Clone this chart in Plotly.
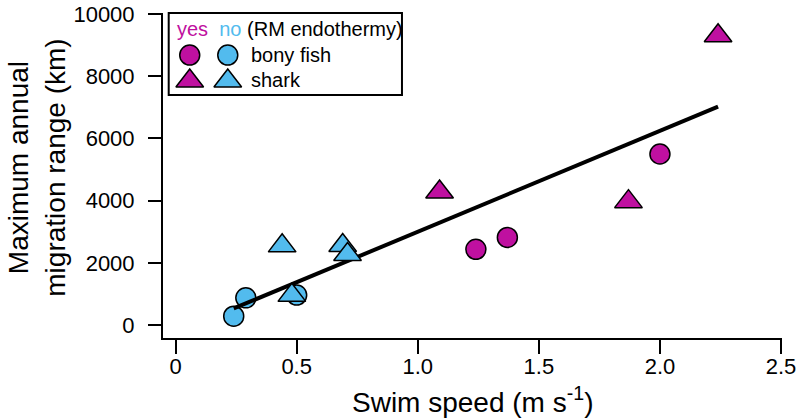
"""Swim speed vs maximum annual migration range, by RM endothermy."""
import plotly.graph_objects as go

# ---- data ----
yes_fish_speed = [1.24, 1.37, 2.00]
yes_fish_range = [2440, 2820, 5500]
yes_shark_speed = [1.09, 1.87, 2.24]
yes_shark_range = [4280, 3970, 9300]
no_fish_speed = [0.24, 0.29, 0.50]
no_fish_range = [290, 880, 970]
no_shark_speed = [0.44, 0.48, 0.69, 0.71]
no_shark_range = [2550, 960, 2560, 2270]
fit_speed = [0.24, 2.24]
fit_range = [540, 7020]

x_ticks = [0, 0.5, 1.0, 1.5, 2.0, 2.5]
x_labels = ['0', '0.5', '1.0', '1.5', '2.0', '2.5']
y_ticks = [0, 2000, 4000, 6000, 8000, 10000]
y_labels = ['0', '2000', '4000', '6000', '8000', '10000']

MAGENTA = '#bf10a0'
BLUE = '#52bbee'
FONT = 'Liberation Sans, Arial, sans-serif'

W, H = 796, 419
# plot area in page pixels
L, R, T, B = 163.3, 781.6, 13, 337.7


def px(x):
    return (x - L) / (R - L)


def py(y):
    return (B - y) / (B - T)


fig = go.Figure()

marker_line = dict(color='black', width=1.5)
TRI = 24

fig.add_trace(go.Scatter(x=no_fish_speed, y=no_fish_range, mode='markers',
                         marker=dict(symbol='circle', size=20, color=BLUE, line=marker_line)))
fig.add_trace(go.Scatter(x=yes_fish_speed, y=yes_fish_range, mode='markers',
                         marker=dict(symbol='circle', size=20, color=MAGENTA, line=marker_line)))
fig.add_trace(go.Scatter(x=fit_speed, y=fit_range, mode='lines',
                         line=dict(color='black', width=4)))
fig.add_trace(go.Scatter(x=no_shark_speed, y=no_shark_range, mode='markers',
                         marker=dict(symbol='triangle-up', size=TRI, color=BLUE, line=marker_line)))
fig.add_trace(go.Scatter(x=yes_shark_speed, y=yes_shark_range, mode='markers',
                         marker=dict(symbol='triangle-up', size=TRI, color=MAGENTA, line=marker_line)))

# legend keys, drawn on a hidden pixel-scaled axis pair
for sym, ky in (('circle', 55), ('triangle-up', 81)):
    sz = 20 if sym == 'circle' else TRI
    fig.add_trace(go.Scatter(x=[190, 228], y=[ky, ky], mode='markers', xaxis='x2', yaxis='y2',
                             marker=dict(symbol=sym, size=sz, color=[MAGENTA, BLUE], line=marker_line),
                             hoverinfo='skip'))

fig.add_shape(type='rect', xref='paper', yref='paper',
              x0=px(169), x1=px(402), y0=py(95), y1=py(13),
              line=dict(color='black', width=2), fillcolor='white', layer='below')

legend_font = dict(size=20, color='black', family=FONT)
fig.add_annotation(xref='paper', yref='paper', x=px(175), y=py(29), xanchor='left', yanchor='middle',
                   showarrow=False, font=legend_font,
                   text=f'<span style="color:{MAGENTA}">yes</span>&nbsp; '
                        f'<span style="color:{BLUE}">no</span> (RM endothermy)')
fig.add_annotation(xref='paper', yref='paper', x=px(249), y=py(55), xanchor='left', yanchor='middle',
                   showarrow=False, font=legend_font, text='bony fish')
fig.add_annotation(xref='paper', yref='paper', x=px(249), y=py(80), xanchor='left', yanchor='middle',
                   showarrow=False, font=legend_font, text='shark')

# axis titles as annotations for exact placement
title_font = dict(size=28, color='black', family=FONT)
fig.add_annotation(xref='paper', yref='paper', x=px(472), y=py(400), xanchor='center', yanchor='middle',
                   showarrow=False, font=title_font, text='Swim speed (m s<sup>-1</sup>)')
fig.add_annotation(xref='paper', yref='paper', x=px(37), y=py(168), xanchor='center', yanchor='middle',
                   showarrow=False, font=title_font, textangle=-90,
                   text='Maximum annual<br>migration range (km)')

axis_common = dict(showline=True, linecolor='black', linewidth=2, showgrid=False, zeroline=False,
                   ticks='outside', tickcolor='black', tickwidth=1.5, automargin=False,
                   ticklabeloverflow='allow',
                   tickfont=dict(size=22, color='black', family=FONT))

fig.update_layout(
    width=W, height=H,
    margin=dict(l=L, r=W - R, t=T, b=H - B),
    plot_bgcolor='white', paper_bgcolor='white',
    showlegend=False,
    font=dict(family=FONT, color='black'),
    xaxis=dict(range=[-0.052, 2.504], tickvals=x_ticks, ticktext=x_labels, ticklen=14,
               ticklabelstandoff=-6, **axis_common),
    yaxis=dict(range=[-410, 10030], tickvals=y_ticks, ticktext=y_labels, ticklen=13,
               ticklabelstandoff=9, **axis_common),
    xaxis2=dict(overlaying='x', range=[L, R], visible=False, domain=[0, 1]),
    yaxis2=dict(overlaying='y', range=[B, T], visible=False, domain=[0, 1]),
)

# drop the default 8px body margin so the figure sits at the page origin
fig.write_html("out.html", config={'displayModeBar': False},
               post_script="document.body.style.margin='0';")
